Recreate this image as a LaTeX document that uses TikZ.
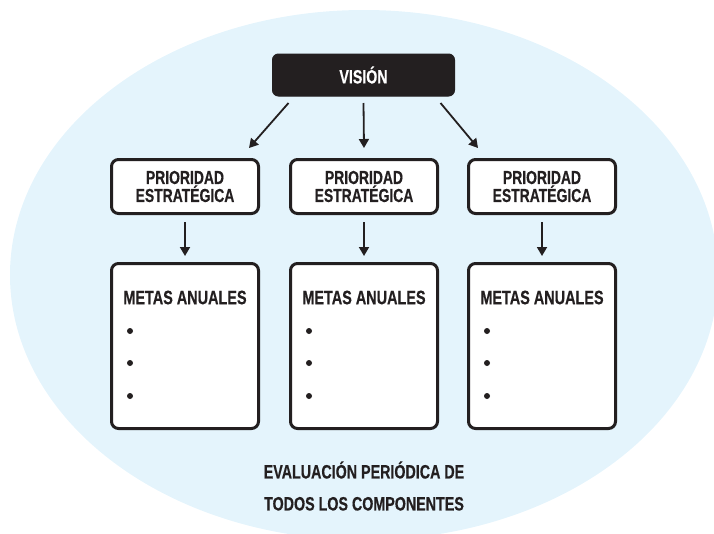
\documentclass[tikz,border=0pt]{standalone}
\usepackage{fontspec}
\newfontfamily\cond[FakeStretch=0.74,FakeBold=0.4]{Liberation Sans}
\usetikzlibrary{arrows.meta,calc}
\definecolor{bgblue}{RGB}{228,244,252}
\definecolor{ink}{RGB}{35,31,32}
\begin{document}
\begin{tikzpicture}[x=1pt,y=-1pt,
  lbl/.style={font=\cond\bfseries\fontsize{19.5}{18}\selectfont, text=ink},
  visbox/.style={rectangle, rounded corners=6pt, fill=ink, draw=ink, line width=1pt,
     minimum width=182pt, minimum height=42pt, inner sep=0pt,
     font=\cond\bfseries\fontsize{19.2}{18}\selectfont, text=white},
  pribox/.style={rectangle, rounded corners=7pt, fill=white, draw=ink, line width=3pt,
     minimum width=147pt, minimum height=54pt, inner sep=0pt, align=center,
     font=\cond\bfseries\fontsize{18.8}{18}\selectfont, text=ink},
  metbox/.style={rectangle, rounded corners=7pt, fill=white, draw=ink, line width=3pt,
     minimum width=147pt, minimum height=165pt, inner sep=0pt},
  arr/.style={draw=ink, line width=1.8pt, -{Triangle[length=9pt,width=10pt]}},
  dot/.style={fill=ink}
]
\useasboundingbox (0,0) rectangle (714,533);
\fill[bgblue] (364,275) ellipse [x radius=354, y radius=265];

\node[visbox] (vision) at (363.5,75) {VISIÓN};

\node[pribox] (p1) at (185,186.5) {PRIORIDAD\\ESTRATÉGICA};
\node[pribox] (p2) at (364,186.5) {PRIORIDAD\\ESTRATÉGICA};
\node[pribox] (p3) at (542,186.5) {PRIORIDAD\\ESTRATÉGICA};

\node[metbox] (m1) at (185,346) {};
\node[metbox] (m2) at (364,346) {};
\node[metbox] (m3) at (542,346) {};

\foreach \m in {m1,m2,m3}{
  \node[lbl] (\m t) at ([yshift=-35.5pt]\m.north) {METAS ANUALES};
  \fill[dot] ([xshift=-55pt,yshift=-69pt]\m.north) circle (3pt);
  \fill[dot] ([xshift=-55pt,yshift=-101pt]\m.north) circle (3pt);
  \fill[dot] ([xshift=-55pt,yshift=-134pt]\m.north) circle (3pt);
}

\draw[arr] ([xshift=-75pt,yshift=-6.5pt]vision.south) -- ([xshift=64pt,yshift=10pt]p1.north);
\draw[arr] ([yshift=-6.5pt]vision.south) -- ([yshift=10pt]p2.north);
\draw[arr] ([xshift=77pt,yshift=-6.5pt]vision.south) -- ([xshift=-64pt,yshift=10pt]p3.north);

\draw[arr] ([yshift=-7pt]p1.south) -- ([yshift=6pt]m1.north);
\draw[arr] ([yshift=-7pt]p2.south) -- ([yshift=6pt]m2.north);
\draw[arr] ([yshift=-7pt]p3.south) -- ([yshift=6pt]m3.north);

\node[align=center, text=ink, font=\cond\bfseries\fontsize{19.3}{32}\selectfont] (eval) at (364,486)
  {EVALUACIÓN PERIÓDICA DE\\TODOS LOS COMPONENTES};
\end{tikzpicture}
\end{document}
